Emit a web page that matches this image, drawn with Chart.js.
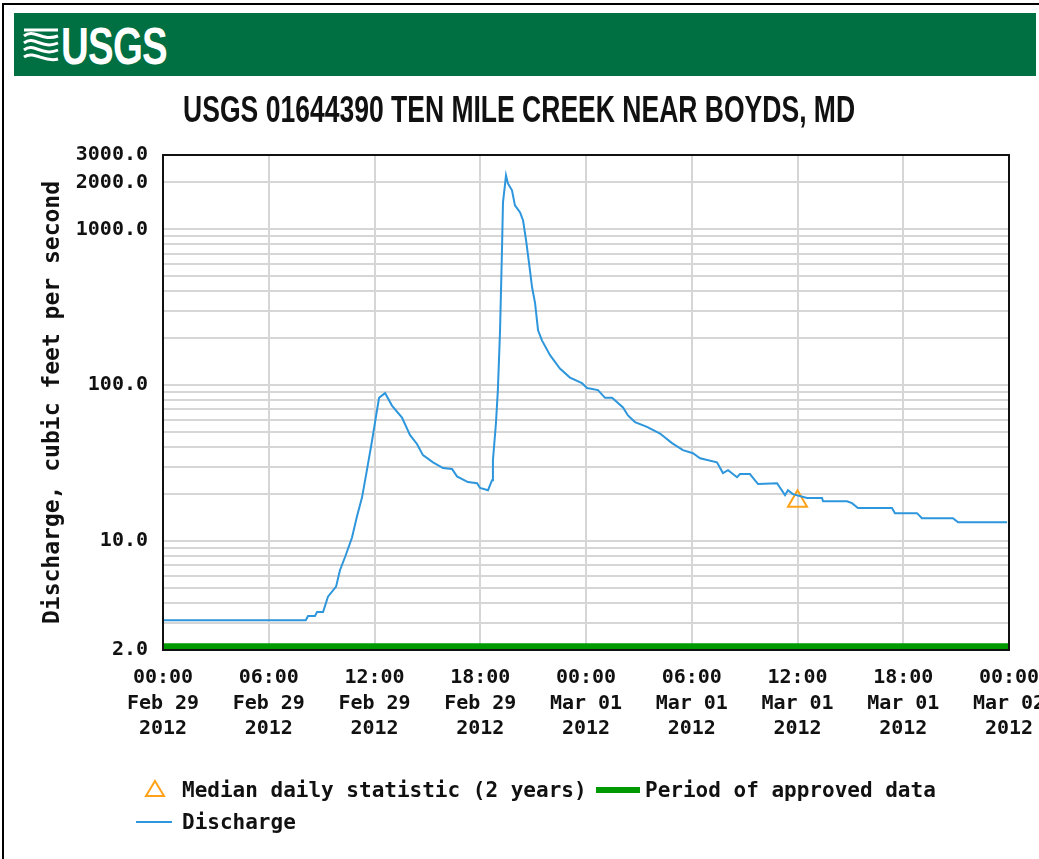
<!DOCTYPE html>
<html>
<head>
<meta charset="utf-8">
<script src="https://cdn.jsdelivr.net/npm/chart.js@4.4.1/dist/chart.umd.min.js"></script>
<style>
  html, body { margin: 0; padding: 0; background: #fff; }
  body { width: 1039px; height: 859px; position: relative; overflow: hidden; }
  #chart { position: absolute; left: 0; top: 0; }
  #frame { position: absolute; left: 2px; top: 3px; width: 1100px; height: 900px;
           border-left: 2px solid #000; border-top: 2px solid #000; }
  #header { position: absolute; left: 14px; top: 13px; width: 1022px; height: 63px; background: #006f41; }
  #logoText { position: absolute; left: 47px; top: 7px; color: #fff; font: bold 52px "Liberation Sans Narrow", "Liberation Sans", sans-serif;
              line-height: 52px; transform-origin: 0 0; letter-spacing: -1px; }
  #logoWave { position: absolute; left: 8px; top: 13px; }
  #title { position: absolute; left: 0; top: 90px; width: 1039px; text-align: center; }
  #title span { display: inline-block; font: 36px "Liberation Sans Narrow", "Liberation Sans", sans-serif; font-weight: bold;
                color: #111; white-space: nowrap; line-height: 40px; }
  .lg { position: absolute; font: bold 21px "DejaVu Sans Mono", monospace; color: #111; white-space: nowrap; line-height: 24px; }
</style>
</head>
<body>
<canvas id="chart" width="1039" height="859"></canvas>
<div id="frame"></div>
<div id="header">
  <svg id="logoWave" width="38" height="38" viewBox="0 0 38 38">
    <g fill="none" stroke="#fff" stroke-width="3">
      <path d="M2 4 L36 4"/>
      <path d="M2 10 C 12 2, 20 16, 36 10"/>
      <path d="M2 17 C 12 9, 20 24, 36 17"/>
      <path d="M2 24 C 12 16, 20 31, 36 24"/>
      <path d="M2 31 C 12 24, 22 37, 36 33"/>
    </g>
  </svg>
  <div id="logoText">USGS</div>
</div>
<div id="title"><span>USGS 01644390 TEN MILE CREEK NEAR BOYDS, MD</span></div>

<svg style="position:absolute;left:144px;top:779px" width="22" height="20">
  <polygon points="11,2 20,17 2,17" fill="none" stroke="#ffa21a" stroke-width="2"/>
</svg>
<div class="lg" style="left:182px;top:778px">Median daily statistic (2 years)</div>
<div style="position:absolute;left:596px;top:787px;width:44px;height:6px;background:#009900"></div>
<div class="lg" style="left:645px;top:778px">Period of approved data</div>
<div style="position:absolute;left:136px;top:821px;width:36px;height:2px;background:#2d96dc"></div>
<div class="lg" style="left:182px;top:810px">Discharge</div>

<script>
// hours since 00:00 Feb 29 2012
const hours = [0, 8.1, 8.23, 8.62, 8.74, 9.08, 9.36, 9.82, 10.04, 10.33, 10.72, 11.0, 11.29, 11.57, 11.86,
  12.14, 12.26, 12.6, 12.99, 13.56, 14.01, 14.41, 14.75, 15.32, 15.89, 16.4, 16.68, 17.3, 17.82, 17.99,
  18.44, 18.67, 18.72, 18.89, 19.0, 19.12, 19.23, 19.29, 19.4, 19.46, 19.57, 19.8, 19.97, 20.26, 20.43,
  20.6, 20.77, 20.94, 21.11, 21.28, 21.5, 21.96, 22.52, 23.09, 23.77, 24.06, 24.68, 25.08, 25.48, 26.1,
  26.38, 26.78, 27.46, 28.2, 28.88, 29.5, 30.07, 30.47, 31.43, 31.77, 32.06, 32.57, 32.74, 33.3, 33.76,
  34.84, 35.29, 35.46, 35.74, 36.54, 37.39, 37.45, 38.81, 39.09, 39.43, 41.36, 41.53, 42.78, 43.06,
  44.82, 45.11, 47.89];
// discharge, cubic feet per second
const discharge = [3.1, 3.1, 3.3, 3.3, 3.5, 3.5, 4.4, 5.1, 6.5, 7.9, 10.5, 14.3, 19, 28.5, 44,
  69, 83, 89, 74, 62, 48, 42, 35.6, 32, 29.4, 29, 26, 23.9, 23.5, 21.9,
  21.2, 24.6, 33, 57, 93, 219, 713, 1490, 1915, 2220, 1970, 1780, 1425, 1285, 1140,
  850, 605, 425, 336, 225, 194, 156, 128, 112, 103, 96, 93, 83, 83, 72,
  64, 58, 54, 49, 42.5, 38.3, 36.6, 34, 32, 27.3, 28.5, 25.7, 26.9, 26.9, 23.2,
  23.5, 19.7, 21.2, 20, 18.9, 18.9, 18, 18, 17.5, 16.3, 16.3, 15.1, 15.1, 14,
  14, 13.2, 13.2];

const medianHour = [36];
const medianValue = [18];

const approvedHours = [0, 48];
const approvedLevel = [2.1, 2.1];

const xTickTimes = ['00:00', '06:00', '12:00', '18:00', '00:00', '06:00', '12:00', '18:00', '00:00'];
const xTickDates = ['Feb 29', 'Feb 29', 'Feb 29', 'Feb 29', 'Mar 01', 'Mar 01', 'Mar 01', 'Mar 01', 'Mar 02'];
const xTickYears = ['2012', '2012', '2012', '2012', '2012', '2012', '2012', '2012', '2012'];
const yTickLabels = [2, 10, 100, 1000, 2000, 3000];

// log grid: 2..9 per decade, plus the top
const yGrid = [];
for (const d of [1, 10, 100, 1000]) {
  for (let m = 1; m <= 9; m++) {
    const v = m * d;
    if (v >= 2 && v <= 3000) yGrid.push(v);
  }
}
yGrid.push(2000, 3000);
const yGridSet = [...new Set(yGrid)].sort((a, b) => a - b);

const tickFont = { family: 'DejaVu Sans Mono', size: 20, weight: 'bold', lineHeight: 1.28 };

const plotFrame = {
  id: 'plotFrame',
  afterDatasetsDraw(chart) {
    const { ctx, chartArea: a } = chart;
    ctx.save();
    ctx.strokeStyle = '#111';
    ctx.lineWidth = 2;
    ctx.strokeRect(a.left, a.top, a.right - a.left, a.bottom - a.top);
    ctx.restore();
  }
};

new Chart(document.getElementById('chart'), {
  type: 'line',
  data: {
    datasets: [
      {
        label: 'Period of approved data',
        data: approvedHours.map((h, i) => ({ x: h, y: approvedLevel[i] })),
        borderColor: '#009900',
        borderWidth: 7,
        pointRadius: 0,
        clip: false
      },
      {
        label: 'Discharge',
        data: hours.map((h, i) => ({ x: h, y: discharge[i] })),
        borderColor: '#2d96dc',
        borderWidth: 2,
        pointRadius: 0,
        tension: 0
      },
      {
        label: 'Median daily statistic (2 years)',
        data: medianHour.map((h, i) => ({ x: h, y: medianValue[i] })),
        showLine: false,
        pointStyle: 'triangle',
        pointRadius: 11,
        borderColor: '#ffa21a',
        backgroundColor: 'rgba(0,0,0,0)',
        borderWidth: 2
      }
    ]
  },
  options: {
    responsive: false,
    animation: false,
    layout: { padding: { top: 155, right: 30, bottom: 109, left: 0 } },
    plugins: { legend: { display: false }, tooltip: { enabled: false } },
    scales: {
      x: {
        type: 'linear',
        min: 0,
        max: 48,
        afterFit(scale) {
          scale.height = 100;
          scale.paddingLeft = 0;
          scale.paddingRight = 0;
        },
        afterBuildTicks(scale) {
          scale.ticks = xTickTimes.map((_, i) => ({ value: i * 6 }));
        },
        ticks: {
          autoSkip: false,
          maxRotation: 0,
          padding: 15,
          color: '#111',
          font: tickFont,
          callback: (v) => {
            const i = Math.round(v / 6);
            return [xTickTimes[i], xTickDates[i], xTickYears[i]];
          }
        },
        grid: { color: '#d6d6d6', lineWidth: 2, drawTicks: false },
        border: { display: false }
      },
      y: {
        type: 'logarithmic',
        min: 2,
        max: 3000,
        afterFit(scale) {
          scale.width = 163;
          scale.paddingTop = 0;
          scale.paddingBottom = 0;
        },
        afterBuildTicks(scale) {
          scale.ticks = yGridSet.map(v => ({ value: v }));
        },
        ticks: {
          autoSkip: false,
          padding: 15,
          color: '#111',
          font: tickFont,
          callback: (v) => yTickLabels.includes(v) ? v.toFixed(1) : ''
        },
        grid: { color: '#d6d6d6', lineWidth: 2, drawTicks: false },
        border: { display: false },
        title: {
          display: true,
          text: 'Discharge, cubic feet per second',
          color: '#111',
          font: { family: 'DejaVu Sans Mono', size: 23, weight: 'bold' },
          padding: { top: 39, bottom: 0 }
        }
      }
    }
  },
  plugins: [plotFrame]
});

// squeeze title and logo text to the reference widths
const t = document.querySelector('#title span');
t.style.transform = 'scaleX(' + (672 / t.getBoundingClientRect().width) + ')';
const lt = document.getElementById('logoText');
const lw = lt.getBoundingClientRect().width;
lt.style.transform = 'scaleX(' + (106 / lw) + ')';
</script>
</body>
</html>
